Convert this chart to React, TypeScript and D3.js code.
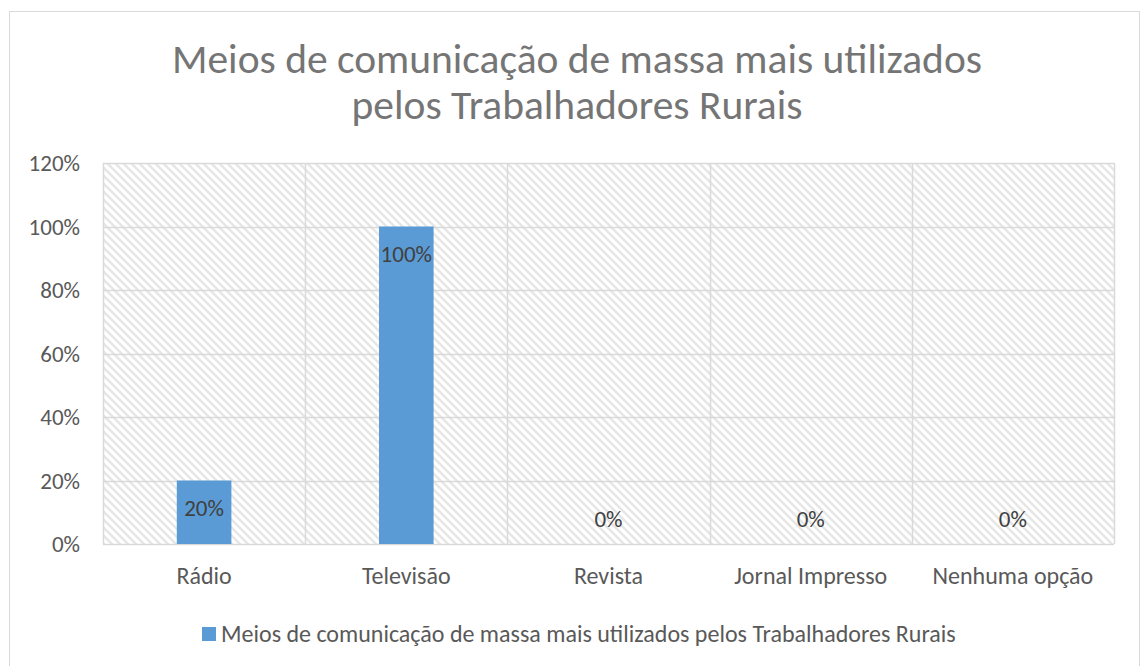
import * as d3 from "d3";

const categories = ["Rádio", "Televisão", "Revista", "Jornal Impresso", "Nenhuma opção"];
const values = [0.2, 1.0, 0, 0, 0];
const yTicks = [0, 0.2, 0.4, 0.6, 0.8, 1.0, 1.2];
const titleLines = ["Meios de comunicação de massa mais utilizados", "pelos Trabalhadores Rurais"];
const seriesName = "Meios de comunicação de massa mais utilizados pelos Trabalhadores Rurais";

const W = 1144;
const H = 666;
const font = "Carlito, Calibri, 'Open Sans', sans-serif";
const plot = { left: 103, right: 1114, top: 163, bottom: 544 };

const App = () => {
  const x = d3
    .scaleBand<string>()
    .domain(categories)
    .range([plot.left, plot.right])
    .paddingInner(0)
    .paddingOuter(0);
  const y = d3.scaleLinear().domain([0, 1.2]).range([plot.bottom, plot.top]);
  const barW = x.bandwidth() * 0.27;
  const pct = d3.format(".0%");

  return (
    <svg
      width={W}
      height={H}
      style={{ position: "absolute", left: 0, top: 0, background: "#fff" }}
      fontFamily={font}
    >
      <defs>
        <pattern id="hatch" patternUnits="userSpaceOnUse" width={8} height={8}>
          <rect width={8} height={8} fill="#fff" />
          <path d="M-2,6 l4,4 M0,0 l8,8 M6,-2 l4,4" stroke="#e6e6e6" strokeWidth={2.4} />
        </pattern>
      </defs>
      <rect x={9.5} y={11.5} width={1130} height={H} fill="#fff" stroke="#d9d9d9" />

      {/* two-line title, like the original */}
      <text x={577} textAnchor="middle" fontSize={41.5} fill="#757575">
        {titleLines.map((t, i) => (
          <tspan key={i} x={577} y={73 + i * 46}>
            {t}
          </tspan>
        ))}
      </text>

      <rect
        x={plot.left}
        y={plot.top}
        width={plot.right - plot.left}
        height={plot.bottom - plot.top}
        fill="url(#hatch)"
      />
      {yTicks.map((t) => (
        <g key={t}>
          <line
            x1={plot.left}
            x2={plot.right}
            y1={Math.round(y(t)) + 0.5}
            y2={Math.round(y(t)) + 0.5}
            stroke="#d9d9d9"
            strokeWidth={1.5}
          />
          <text
            x={plot.left - 23}
            y={y(t)}
            dy="0.35em"
            textAnchor="end"
            fontSize={23}
            fill="#595959"
          >
            {pct(t)}
          </text>
        </g>
      ))}
      {categories.map((c) => (
        <line
          key={c}
          x1={Math.round(x(c)!) + 0.5}
          x2={Math.round(x(c)!) + 0.5}
          y1={plot.top}
          y2={plot.bottom}
          stroke="#d9d9d9"
          strokeWidth={1.5}
        />
      ))}
      <line
        x1={plot.right + 0.5}
        x2={plot.right + 0.5}
        y1={plot.top}
        y2={plot.bottom}
        stroke="#d9d9d9"
        strokeWidth={1.5}
      />

      {categories.map((c, i) => {
        const cx = x(c)! + x.bandwidth() / 2;
        const v = values[i];
        return (
          <g key={c}>
            {v > 0 && (
              <rect
                x={cx - barW / 2}
                y={y(v)}
                width={barW}
                height={y(0) - y(v)}
                fill="#5b9bd5"
              />
            )}
            <text
              x={cx}
              y={v > 0 ? y(v) + 27 : y(0) - 25}
              dy="0.35em"
              textAnchor="middle"
              fontSize={23}
              fill="#404040"
            >
              {pct(v)}
            </text>
            <text
              x={cx}
              y={576}
              dy="0.35em"
              textAnchor="middle"
              fontSize={24}
              fill="#595959"
            >
              {c}
            </text>
          </g>
        );
      })}

      <rect x={202} y={627} width={14} height={14} fill="#5b9bd5" />
      <text x={221} y={634} dy="0.35em" fontSize={24} fill="#595959">
        {seriesName}
      </text>
    </svg>
  );
};

export default App;
